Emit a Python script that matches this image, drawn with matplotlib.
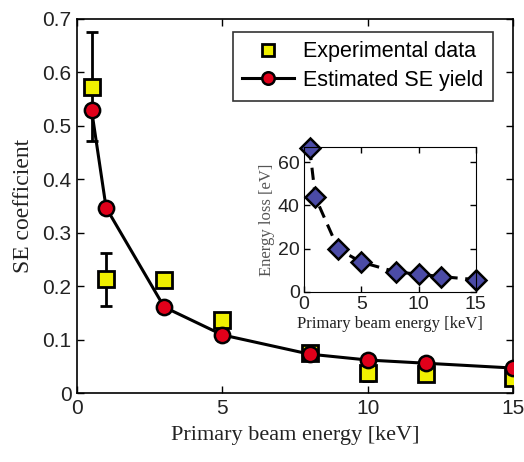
import matplotlib
matplotlib.use('Agg')
import matplotlib.pyplot as plt
import numpy as np
from matplotlib.ticker import FormatStrFormatter

# data
energy = [0.5, 1, 3, 5, 8, 10, 12, 15]
exp_se = [0.573, 0.213, 0.212, 0.137, 0.075, 0.037, 0.035, 0.028]
exp_err = [0.102, 0.05, 0.0, 0.0, 0.006, 0.014, 0.0, 0.0]
est_se = [0.530, 0.347, 0.161, 0.109, 0.073, 0.062, 0.056, 0.047]
eloss = [66.5, 43.7, 19.8, 13.8, 9.3, 8.2, 7.1, 5.7]

sans = ['Liberation Sans', 'DejaVu Sans']
serif = ['Liberation Serif', 'DejaVu Serif']

fig = plt.figure(figsize=(5.24, 4.62), dpi=100)
ax = fig.add_axes([0.147, 0.149, 0.832, 0.810])

# error bars first, then squares, then the estimated curve
ax.errorbar(energy, exp_se, yerr=exp_err, fmt='none', ecolor='k',
            elinewidth=2, capsize=4, capthick=2, zorder=2)
ax.plot(energy, exp_se, 's', color='#f0f000', mec='k', mew=2,
        ms=11, label='Experimental data', zorder=3)
ax.plot(energy, est_se, '-o', color='k', lw=2.2, mfc='#e0001a',
        mec='k', mew=1.8, ms=11, label='Estimated SE yield', zorder=4)

ax.set_xlim(0, 15)
ax.set_ylim(0, 0.7)
ax.set_xticks([0, 5, 10, 15])
ax.set_yticks(np.arange(0, 0.71, 0.1))
ax.yaxis.set_major_formatter(FormatStrFormatter('%g'))
ax.tick_params(direction='in', top=True, right=True, length=5, width=1,
               labelsize=15, pad=4)
for lab in ax.get_xticklabels() + ax.get_yticklabels():
    lab.set_family(sans)
    lab.set_color('#222222')
for s in ax.spines.values():
    s.set_linewidth(1.2)
ax.set_xlabel('Primary beam energy [keV]', family=serif, fontsize=16,
              color='#222222', labelpad=6)
ax.set_ylabel('SE coefficient', family=serif, fontsize=17,
              color='#222222', labelpad=6)

leg = ax.legend(loc='upper right', bbox_to_anchor=(0.968, 0.983),
                prop={'family': sans, 'size': 15.5}, frameon=True,
                fancybox=False, edgecolor='k', handlelength=2.4,
                borderpad=0.45, labelspacing=0.35, handletextpad=0.4,
                borderaxespad=0.3)
leg.get_frame().set_linewidth(1.2)
for h in leg.legend_handles:
    h.set_markersize(9)

# inset
ins = fig.add_axes([0.580, 0.368, 0.328, 0.314])
ins.plot(energy, eloss, '--D', color='k', lw=2.2, dashes=(4, 2.5),
         mfc='#4b4ba6', mec='k', mew=1.8, ms=10, clip_on=False)
ins.set_xlim(0, 15)
ins.set_ylim(0, 67)
ins.set_xticks([0, 5, 10, 15])
ins.set_yticks([0, 20, 40, 60])
ins.tick_params(direction='in', top=True, right=True, length=4, width=1,
                labelsize=14, pad=3)
for lab in ins.get_xticklabels() + ins.get_yticklabels():
    lab.set_family(sans)
    lab.set_color('#222222')
ins.set_xlabel('Primary beam energy [keV]', family=serif, fontsize=12,
               color='#222222', labelpad=2)
ins.set_ylabel('Energy loss [eV]', family=serif, fontsize=12,
               color='#555555', labelpad=2)

fig.savefig('out.png', dpi=100)
